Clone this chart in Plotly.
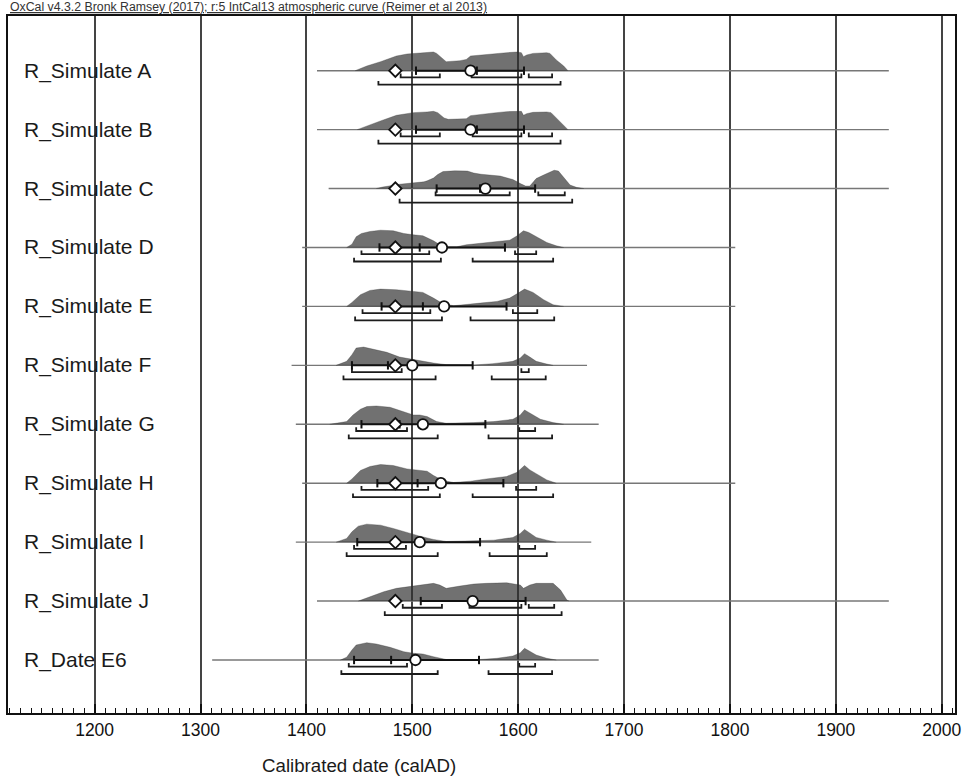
import plotly.graph_objects as go

# ---------------- data ----------------
ROWS = ["R_Simulate A", "R_Simulate B", "R_Simulate C", "R_Simulate D", "R_Simulate E",
        "R_Simulate F", "R_Simulate G", "R_Simulate H", "R_Simulate I", "R_Simulate J",
        "R_Date E6"]

RANGE_START = [1410, 1410, 1421, 1396, 1396, 1386, 1390, 1396, 1390, 1410, 1311]
RANGE_END = [1950, 1950, 1950, 1805, 1805, 1665, 1676, 1805, 1669, 1950, 1676]

# simulated true date (diamond); None for the measured date
SIM_DATE = [1484, 1484, 1484, 1484, 1484, 1484, 1484, 1484, 1484, 1484, None]

MEAN = [1555, 1555, 1569, 1528, 1530, 1500, 1510, 1527, 1507, 1557, 1503]
SIGMA_LO = [1503.5, 1503.5, 1523, 1469, 1471, 1443, 1452, 1467, 1448, 1508, 1445]
SIGMA_HI = [1605.5, 1605.5, 1616, 1587.5, 1589, 1557, 1569, 1586, 1564, 1607, 1563]
MEDIAN = [1561, 1561, 1564, 1507, 1510, 1477, 1488, 1505, 1486, 1555, 1480]

HPD68 = [
    [(1489, 1526), (1556, 1603), (1610, 1632)],
    [(1489, 1526), (1557, 1603), (1610, 1632)],
    [(1522, 1592), (1619, 1644)],
    [(1452, 1516), (1597, 1617)],
    [(1453, 1517), (1595, 1618)],
    [(1443, 1490), (1603, 1610)],
    [(1447, 1495), (1601, 1616)],
    [(1452, 1515), (1598, 1617)],
    [(1445, 1494), (1601, 1616)],
    [(1491, 1528), (1554, 1603), (1610, 1634)],
    [(1440, 1495), (1601, 1616)],
]
HPD95 = [
    [(1468, 1640)],
    [(1468, 1640)],
    [(1488, 1651)],
    [(1445, 1527), (1557, 1633)],
    [(1446, 1528), (1555, 1634)],
    [(1435, 1522), (1575, 1626)],
    [(1440, 1524), (1572, 1632)],
    [(1444, 1526), (1557, 1633)],
    [(1438, 1524), (1573, 1627)],
    [(1474, 1641)],
    [(1433, 1524), (1572, 1632)],
]

# probability distributions: calendar years and relative probability
A_YEARS = [1446, 1457, 1470, 1485, 1495, 1501, 1514, 1520, 1523, 1529, 1532, 1545, 1551, 1555,
           1564, 1577, 1589, 1599, 1603, 1605, 1608, 1614, 1627, 1630, 1636, 1643, 1647]
A_PROB = [0, 4.7, 9, 14.7, 16.7, 17.3, 18, 18.7, 17.3, 11.3, 9, 10, 11.3, 14.7,
          15.7, 16.7, 18, 18.7, 18, 14, 15.7, 17.3, 18, 17.3, 10.7, 4.7, 0]
B_YEARS = [1448, 1458, 1470, 1485, 1495, 1501, 1514, 1520, 1524, 1530, 1534, 1545, 1551, 1555,
           1564, 1577, 1589, 1599, 1603, 1605, 1608, 1614, 1627, 1631, 1637, 1643, 1647]
B_PROB = [0, 4.3, 8.7, 14.3, 16.3, 17, 17.7, 18.3, 17, 11.7, 10.3, 10.3, 11, 14,
          15.3, 16.7, 18, 18.7, 18.3, 14.3, 16, 17.3, 17.7, 17, 10.3, 4.3, 0]
C_YEARS = [1466, 1472, 1488, 1500, 1511, 1514, 1520, 1524, 1529, 1540, 1552, 1558, 1565, 1583,
           1595, 1602, 1607, 1611, 1617, 1625, 1634, 1638, 1644, 1649, 1655, 1662]
C_PROB = [0, 1.5, 4.3, 5.5, 6.7, 7.7, 10.5, 14, 17, 17.7, 17.5, 15.5, 14.3, 12.5,
          9, 5, 2.5, 2.5, 10, 14, 18.3, 17.5, 10, 3.5, 1.2, 0]
D_YEARS = [1438, 1443, 1447, 1452, 1460, 1470, 1482, 1492, 1501, 1510, 1520, 1526, 1532, 1542,
           1551, 1564, 1580, 1592, 1599, 1605, 1610, 1617, 1627, 1636, 1643]
D_PROB = [0, 3.3, 10.7, 14, 16, 17.3, 16.7, 14, 12.7, 11.7, 6.7, 2.7, 0.7, 0.7,
          2.7, 4, 6, 7.3, 11.7, 16.7, 15, 10.7, 5, 1.7, 0]
E_YEARS = [1438, 1443, 1451, 1460, 1470, 1485, 1501, 1510, 1520, 1529, 1539, 1551, 1564, 1580,
           1592, 1600, 1606, 1614, 1624, 1633, 1643]
E_PROB = [0, 4, 11.7, 16, 17.3, 16.7, 15, 14, 8.3, 2.7, 0.7, 1.7, 3.3, 5,
          8.3, 13.3, 17.3, 14, 6.7, 1.7, 0]
F_YEARS = [1428, 1438, 1443, 1447, 1454, 1463, 1476, 1488, 1501, 1510, 1520, 1532, 1558, 1576,
           1595, 1602, 1606, 1611, 1617, 1627, 1633]
F_PROB = [0, 4, 10.7, 17.3, 18.3, 16.3, 13, 8.3, 5.7, 4, 2.3, 0.7, 0.3, 1.7,
          4, 7.3, 11.7, 8.3, 4, 1.3, 0]
G_YEARS = [1422, 1438, 1444, 1451, 1457, 1466, 1479, 1492, 1501, 1507, 1514, 1523, 1532, 1558,
           1577, 1595, 1602, 1606, 1611, 1621, 1633, 1643]
G_PROB = [0, 2.7, 9.3, 15, 17.7, 18.3, 17, 12.7, 9.3, 9.3, 7.7, 2.7, 1, 1.7,
          2.7, 5, 9.3, 14.3, 11, 5, 1.7, 0]
H_YEARS = [1438, 1443, 1451, 1460, 1470, 1482, 1495, 1507, 1514, 1520, 1529, 1539, 1555, 1570,
           1589, 1599, 1606, 1611, 1617, 1627, 1636]
H_PROB = [0, 4.3, 12.7, 16.7, 18.7, 17.7, 14.3, 12.7, 12, 7.7, 2.7, 0.7, 2, 4.3,
          6.7, 11, 17.7, 13.3, 9.3, 3.3, 0]
I_YEARS = [1428, 1438, 1443, 1449, 1457, 1470, 1482, 1495, 1507, 1520, 1532, 1558, 1577, 1595,
           1602, 1606, 1611, 1617, 1627, 1636]
I_PROB = [0, 3.7, 10.3, 16, 18, 17, 13.7, 9.3, 6, 2.7, 0.7, 1.3, 2, 4.7,
          8.7, 12.7, 9.3, 4.7, 2, 0]
J_YEARS = [1449, 1460, 1473, 1485, 1501, 1510, 1520, 1526, 1532, 1545, 1558, 1570, 1589, 1602,
           1605, 1611, 1617, 1633, 1640, 1646, 1648]
J_PROB = [0, 4.3, 9.3, 12.7, 15, 17, 17.7, 16, 12.7, 15, 17, 17.7, 18.3, 16,
          12.7, 16, 17.7, 17.7, 11, 1, 0]
E6_YEARS = [1432, 1438, 1443, 1447, 1457, 1466, 1479, 1492, 1501, 1510, 1520, 1532, 1564, 1580,
            1595, 1602, 1606, 1611, 1617, 1627, 1636]
E6_PROB = [0, 2.7, 10, 15, 17.3, 16, 12.7, 8.3, 6.7, 6, 3.3, 0.5, 0.5, 1.7,
           4, 7.3, 11.7, 8.3, 5, 1.7, 0]

DIST_YEARS = [A_YEARS, B_YEARS, C_YEARS, D_YEARS, E_YEARS, F_YEARS, G_YEARS, H_YEARS,
              I_YEARS, J_YEARS, E6_YEARS]
DIST_PROB = [A_PROB, B_PROB, C_PROB, D_PROB, E_PROB, F_PROB, G_PROB, H_PROB,
             I_PROB, J_PROB, E6_PROB]

X_TICKS = [1200, 1300, 1400, 1500, 1600, 1700, 1800, 1900, 2000]
X_RANGE = [1118.2, 2012.5]
TITLE = "OxCal v4.3.2 Bronk Ramsey (2017); r:5 IntCal13 atmospheric curve (Reimer et al 2013)"
X_TITLE = "Calibrated date (calAD)"

# ---------------- figure ----------------
W, H = 969, 778
ML, MR, MT, MB = 8, 14, 16, 65
PLOT_H = H - MT - MB
ROW_PX = 58.93
N = len(ROWS)
Y_RANGE = [-(PLOT_H - (N - 1) * ROW_PX - (70.7 - MT)) / ROW_PX, (N - 1) + (70.7 - MT) / ROW_PX]


def u(px):
    return px / ROW_PX


FONT = "Liberation Sans, Arial, Helvetica, sans-serif"
fig = go.Figure()

for i, name in enumerate(ROWS):
    base = N - 1 - i
    # full range line
    fig.add_trace(go.Scatter(x=[RANGE_START[i], RANGE_END[i]], y=[base, base], mode="lines",
                             line=dict(color="#777777", width=1.4), hoverinfo="skip", showlegend=False))
    # probability distribution
    fig.add_trace(go.Scatter(x=DIST_YEARS[i], y=[base + u(p) for p in DIST_PROB[i]], mode="lines",
                             fill="toself", fillcolor="rgba(45,45,45,0.68)",
                             line=dict(color="rgba(45,45,45,0.5)", width=0.6),
                             hoverinfo="skip", showlegend=False))
    # HPD ranges (68.2% and 95.4%)
    for intervals, off in ((HPD68[i], 6.7), (HPD95[i], 14.0)):
        bx, by = [], []
        yb = base - u(off)
        yt = yb + u(3.8)
        for lo, hi in intervals:
            bx += [lo, lo, hi, hi, None]
            by += [yt, yb, yb, yt, None]
        fig.add_trace(go.Scatter(x=bx, y=by, mode="lines", line=dict(color="#1c1c1c", width=1.8),
                                 hoverinfo="skip", showlegend=False))
    # mean +/- sigma bar with end ticks and median tick
    sx = [SIGMA_LO[i], SIGMA_HI[i], None, SIGMA_LO[i], SIGMA_LO[i], None,
          SIGMA_HI[i], SIGMA_HI[i], None, MEDIAN[i], MEDIAN[i]]
    sy = [base, base, None, base - u(4.2), base + u(4.2), None,
          base - u(4.2), base + u(4.2), None, base - u(4.2), base + u(4.2)]
    fig.add_trace(go.Scatter(x=sx, y=sy, mode="lines", line=dict(color="#111111", width=2),
                             hoverinfo="skip", showlegend=False))
    # simulated date (diamond)
    if SIM_DATE[i] is not None:
        fig.add_trace(go.Scatter(x=[SIM_DATE[i]], y=[base], mode="markers",
                                 marker=dict(symbol="diamond", size=9.5, color="white",
                                             line=dict(color="#111111", width=1.8)),
                                 hoverinfo="skip", showlegend=False))
    # mean (circle)
    fig.add_trace(go.Scatter(x=[MEAN[i]], y=[base], mode="markers",
                             marker=dict(symbol="circle", size=10.5, color="white",
                                         line=dict(color="#111111", width=1.8)),
                             hoverinfo="skip", showlegend=False))
    # label
    fig.add_annotation(x=(22 - ML) / (W - ML - MR), xref="paper", y=base, yref="y",
                       text=name, showarrow=False, xanchor="left", yanchor="middle",
                       font=dict(family=FONT, size=21, color="#1a1a1a"))

fig.add_annotation(x=0, xref="paper", y=1, yref="paper", yshift=0, text="<u>" + TITLE + "</u>",
                   showarrow=False, xanchor="left", yanchor="bottom",
                   font=dict(family=FONT, size=12.3, color="#333333"))
fig.add_annotation(x=(359 - ML) / (W - ML - MR), xref="paper", y=-(766 - (H - MB)) / PLOT_H,
                   yref="paper", text=X_TITLE, showarrow=False, xanchor="center", yanchor="middle",
                   font=dict(family=FONT, size=18.7, color="#1a1a1a"))

fig.update_layout(
    width=W, height=H, margin=dict(l=ML, r=MR, t=MT, b=MB),
    paper_bgcolor="white", plot_bgcolor="white", showlegend=False,
    xaxis=dict(range=X_RANGE, tickmode="array", tickvals=X_TICKS, ticktext=[str(t) for t in X_TICKS],
               showgrid=True, gridcolor="#444444", gridwidth=1.5, zeroline=False,
               showline=True, linecolor="#111111", linewidth=2, mirror=True,
               ticks="inside", ticklen=9, tickwidth=1.6, tickcolor="#111111",
               minor=dict(ticks="inside", ticklen=5, tickwidth=1, tickcolor="#111111",
                          dtick=10, tick0=1200, showgrid=False),
               tickfont=dict(family=FONT, size=17.5, color="#111111"), fixedrange=True),
    yaxis=dict(range=Y_RANGE, showgrid=False, zeroline=False, showticklabels=False, ticks="",
               showline=True, linecolor="#111111", linewidth=2, mirror=True, fixedrange=True),
)

fig.write_html("out.html")
